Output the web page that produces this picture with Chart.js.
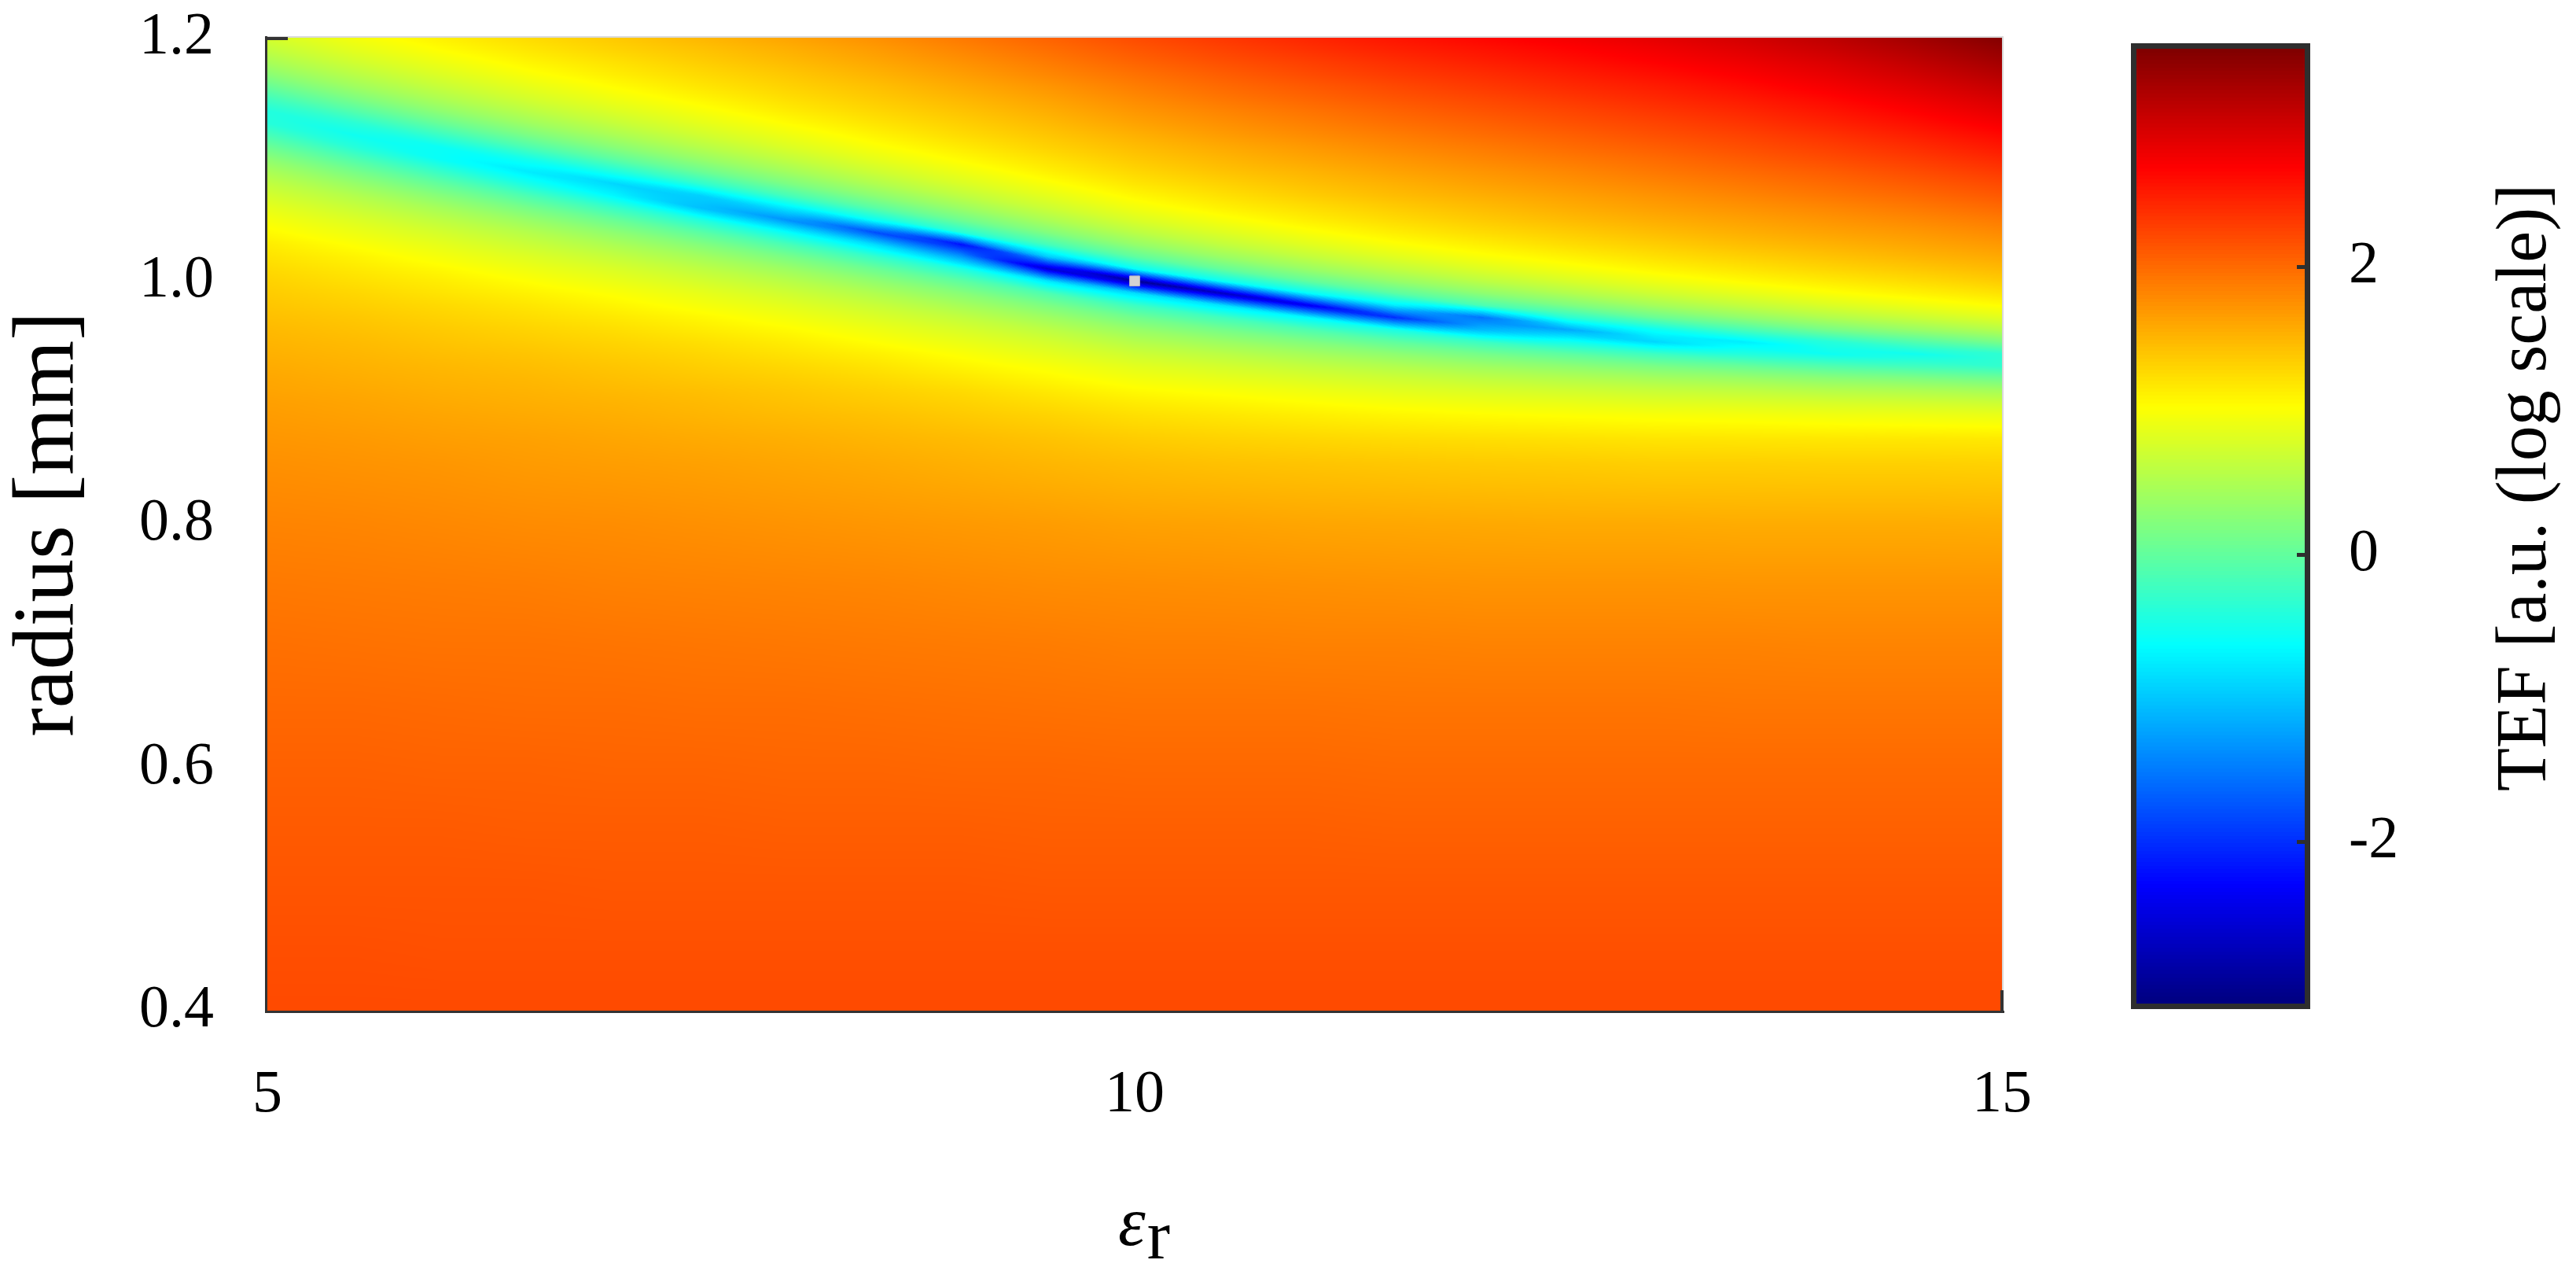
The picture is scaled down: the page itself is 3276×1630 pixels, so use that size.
<!DOCTYPE html>
<html><head><meta charset="utf-8">
<script src="https://cdn.jsdelivr.net/npm/chart.js@4.4.1/dist/chart.umd.min.js"></script>
<style>
html,body{margin:0;padding:0;background:#fff;}
#wrap{position:relative;width:3276px;height:1630px;overflow:hidden;background:#fff;}
#c1{position:absolute;left:0;top:0;}
#c2{position:absolute;left:2640px;top:0;}
</style></head><body>
<div id="wrap"><canvas id="c1" width="2640" height="1630"></canvas><canvas id="c2" width="636" height="1630"></canvas></div>
<script>
// ---- data (log10 TEF) ----
const epsR = [5,5.5,6,6.5,7,7.5,8,8.5,9,9.5,10,10.5,11,11.5,12,12.5,13,13.5,14,14.5,15];
const radius = [0.40,0.45,0.50,0.55,0.60,0.65,0.70,0.75,0.80,0.85,0.87,0.89,0.90,0.91,0.92,0.93,0.94,0.95,0.96,0.97,0.98,0.99,1.00,1.01,1.02,1.03,1.04,1.05,1.06,1.07,1.08,1.09,1.10,1.11,1.12,1.13,1.14,1.15,1.16,1.17,1.18,1.19,1.20];
// radius of the TEF minimum (blue/cyan valley) in each eps column
const valleyRadius = [1.136,1.120,1.105,1.091,1.078,1.065,1.052,1.039,1.026,1.013,1.000,0.990,0.981,0.973,0.966,0.960,0.954,0.949,0.944,0.940,0.936];
// one list per eps column, values from radius 0.40 (first) to 1.20 (last)
const tefLog = [
[2.21,2.18,2.14,2.10,2.06,2.01,1.96,1.90,1.83,1.75,1.71,1.67,1.65,1.62,1.60,1.57,1.54,1.51,1.48,1.44,1.40,1.36,1.32,1.27,1.21,1.15,1.06,0.97,0.87,0.75,0.62,0.47,0.29,0.07,-0.17,-0.40,-0.42,-0.21,0.04,0.27,0.46,0.62,0.75],
[2.21,2.18,2.14,2.10,2.06,2.01,1.95,1.89,1.82,1.73,1.69,1.64,1.62,1.59,1.56,1.53,1.50,1.47,1.43,1.39,1.34,1.29,1.23,1.17,1.10,1.01,0.91,0.80,0.67,0.53,0.35,0.14,-0.11,-0.39,-0.54,-0.37,-0.08,0.18,0.40,0.57,0.72,0.85,0.96],
[2.21,2.17,2.14,2.10,2.05,2.00,1.94,1.88,1.80,1.71,1.66,1.61,1.58,1.55,1.52,1.49,1.45,1.41,1.37,1.32,1.27,1.20,1.14,1.06,0.96,0.86,0.74,0.60,0.44,0.24,0.00,-0.29,-0.59,-0.58,-0.26,0.05,0.30,0.50,0.66,0.80,0.92,1.03,1.12],
[2.21,2.17,2.14,2.09,2.05,1.99,1.94,1.87,1.78,1.68,1.64,1.58,1.55,1.52,1.49,1.45,1.41,1.36,1.31,1.25,1.19,1.11,1.02,0.92,0.81,0.68,0.54,0.36,0.14,-0.14,-0.49,-0.76,-0.52,-0.14,0.16,0.40,0.58,0.74,0.87,0.99,1.09,1.18,1.26],
[2.21,2.17,2.13,2.09,2.04,1.99,1.93,1.85,1.77,1.66,1.61,1.55,1.52,1.48,1.44,1.40,1.35,1.30,1.24,1.17,1.09,1.00,0.89,0.78,0.64,0.48,0.29,0.05,-0.27,-0.68,-0.90,-0.44,-0.04,0.25,0.47,0.65,0.80,0.93,1.04,1.14,1.22,1.31,1.38],
[2.21,2.17,2.13,2.09,2.04,1.98,1.92,1.84,1.75,1.64,1.58,1.51,1.48,1.44,1.39,1.34,1.29,1.23,1.15,1.07,0.97,0.87,0.74,0.60,0.43,0.22,-0.05,-0.42,-1.05,-0.95,-0.33,0.06,0.34,0.55,0.72,0.86,0.98,1.09,1.19,1.27,1.35,1.42,1.50],
[2.21,2.17,2.13,2.08,2.03,1.98,1.91,1.83,1.73,1.61,1.55,1.47,1.43,1.39,1.34,1.28,1.21,1.14,1.05,0.95,0.84,0.71,0.56,0.38,0.15,-0.16,-0.61,-1.35,-0.76,-0.19,0.17,0.42,0.62,0.79,0.92,1.04,1.15,1.24,1.32,1.39,1.47,1.54,1.62],
[2.21,2.17,2.13,2.08,2.03,1.97,1.90,1.82,1.71,1.58,1.51,1.43,1.38,1.33,1.27,1.20,1.12,1.02,0.92,0.80,0.67,0.51,0.31,0.06,-0.29,-0.85,-1.80,-0.58,-0.06,0.27,0.51,0.70,0.86,0.99,1.10,1.20,1.29,1.37,1.44,1.52,1.60,1.67,1.75],
[2.21,2.17,2.13,2.08,2.02,1.96,1.89,1.80,1.69,1.54,1.47,1.37,1.32,1.26,1.18,1.09,1.00,0.89,0.77,0.63,0.45,0.25,-0.03,-0.44,-1.30,-2.20,-0.38,0.08,0.37,0.60,0.78,0.92,1.05,1.16,1.26,1.34,1.42,1.50,1.58,1.66,1.74,1.82,1.90],
[2.21,2.17,2.12,2.07,2.02,1.95,1.88,1.78,1.67,1.50,1.42,1.31,1.24,1.16,1.07,0.98,0.86,0.74,0.59,0.40,0.17,-0.14,-0.80,-2.60,-0.95,-0.19,0.21,0.48,0.69,0.85,0.99,1.12,1.22,1.32,1.40,1.48,1.56,1.64,1.72,1.81,1.89,1.97,2.05],
[2.21,2.17,2.12,2.07,2.01,1.94,1.86,1.77,1.64,1.46,1.36,1.23,1.15,1.05,0.95,0.84,0.70,0.54,0.35,0.10,-0.25,-0.85,-3.00,-0.62,-0.02,0.33,0.58,0.78,0.94,1.07,1.19,1.29,1.38,1.46,1.54,1.63,1.71,1.79,1.87,1.95,2.04,2.12,2.20],
[2.21,2.17,2.12,2.07,2.01,1.94,1.86,1.76,1.63,1.43,1.32,1.18,1.09,0.99,0.87,0.74,0.58,0.38,0.13,-0.21,-0.81,-2.70,-0.58,0.02,0.37,0.62,0.81,0.97,1.11,1.22,1.32,1.42,1.50,1.58,1.67,1.75,1.83,1.92,2.00,2.08,2.17,2.25,2.33],
[2.21,2.17,2.12,2.07,2.01,1.94,1.85,1.75,1.61,1.41,1.29,1.13,1.03,0.92,0.78,0.63,0.44,0.20,-0.13,-0.67,-2.40,-0.62,0.01,0.37,0.63,0.83,0.99,1.13,1.24,1.35,1.44,1.52,1.61,1.69,1.78,1.86,1.94,2.03,2.11,2.20,2.28,2.37,2.45],
[2.21,2.17,2.12,2.06,2.00,1.93,1.85,1.74,1.60,1.39,1.26,1.08,0.97,0.84,0.70,0.52,0.29,-0.02,-0.48,-2.00,-0.74,-0.04,0.35,0.62,0.83,1.00,1.14,1.26,1.36,1.46,1.54,1.63,1.71,1.80,1.88,1.97,2.05,2.14,2.22,2.31,2.39,2.48,2.56],
[2.21,2.17,2.12,2.06,2.00,1.93,1.84,1.73,1.59,1.37,1.24,1.04,0.92,0.78,0.61,0.40,0.13,-0.26,-1.10,-1.55,-0.15,0.29,0.59,0.81,0.99,1.13,1.26,1.37,1.46,1.55,1.64,1.72,1.81,1.89,1.98,2.06,2.15,2.23,2.32,2.40,2.49,2.57,2.66],
[2.21,2.17,2.12,2.06,2.00,1.93,1.84,1.73,1.58,1.36,1.22,1.01,0.88,0.72,0.53,0.29,-0.03,-0.53,-1.20,-0.35,0.18,0.52,0.77,0.96,1.11,1.25,1.36,1.47,1.56,1.64,1.73,1.81,1.90,1.99,2.07,2.16,2.24,2.33,2.42,2.50,2.59,2.67,2.76],
[2.21,2.17,2.12,2.06,2.00,1.93,1.84,1.73,1.58,1.34,1.20,0.98,0.83,0.66,0.44,0.16,-0.24,-0.90,-0.57,0.05,0.44,0.71,0.92,1.09,1.23,1.35,1.46,1.56,1.65,1.73,1.82,1.91,1.99,2.08,2.17,2.25,2.34,2.43,2.51,2.60,2.69,2.77,2.86],
[2.21,2.17,2.12,2.06,2.00,1.92,1.84,1.72,1.57,1.34,1.19,0.96,0.80,0.61,0.37,0.04,-0.42,-0.75,-0.16,0.31,0.63,0.86,1.05,1.20,1.33,1.45,1.55,1.64,1.73,1.82,1.91,2.00,2.09,2.18,2.26,2.35,2.44,2.53,2.62,2.71,2.80,2.89,2.98],
[2.21,2.17,2.12,2.06,2.00,1.92,1.83,1.72,1.57,1.33,1.18,0.93,0.76,0.54,0.27,-0.11,-0.56,-0.40,0.15,0.52,0.79,1.00,1.16,1.30,1.42,1.53,1.63,1.72,1.81,1.91,2.00,2.09,2.19,2.28,2.37,2.47,2.56,2.65,2.75,2.84,2.93,3.03,3.12],
[2.21,2.17,2.12,2.06,2.00,1.92,1.83,1.72,1.57,1.33,1.18,0.91,0.73,0.50,0.19,-0.22,-0.54,-0.10,0.36,0.68,0.92,1.11,1.26,1.39,1.51,1.61,1.70,1.80,1.90,2.00,2.10,2.20,2.30,2.40,2.50,2.60,2.70,2.80,2.90,3.00,3.10,3.20,3.30],
[2.21,2.17,2.12,2.06,2.00,1.92,1.83,1.72,1.56,1.32,1.17,0.88,0.68,0.43,0.09,-0.32,-0.35,0.16,0.55,0.83,1.04,1.21,1.36,1.48,1.59,1.69,1.79,1.89,2.00,2.11,2.21,2.32,2.43,2.54,2.64,2.75,2.86,2.96,3.07,3.18,3.29,3.39,3.50]
];
const xTicks = [5, 10, 15];
const yTicks = [0.4, 0.6, 0.8, 1.0, 1.2];
const cbTicks = [-2, 0, 2];
const cbMin = -3.13, cbMax = 3.52;
const designPoint = [{x: 10, y: 1.0}];
const xTitleMain = 'ε', xTitleSub = 'r';
const yTitle = 'radius [mm]';
const cbTitle = 'TEF [a.u. (log scale)]';

const FONT = "'Liberation Serif', 'Times New Roman', 'DejaVu Serif', serif";

function jetRGB(v) {
  let f = (v - cbMin) / (cbMax - cbMin);
  f = Math.min(1, Math.max(0, f));
  const c = t => Math.round(255 * Math.min(1, Math.max(0, 1.5 - Math.abs(4 * f - t))));
  return [c(3), c(2), c(1)];
}
function jet(v) { const c = jetRGB(v); return 'rgb(' + c[0] + ',' + c[1] + ',' + c[2] + ')'; }

// cells for the chart's dataset
const cells = [];
epsR.forEach((x, j) => radius.forEach((y, i) => cells.push({x: x, y: y, v: tefLog[j][i], i: i, j: j})));

function locate(arr, val) {
  let k = 0;
  while (k < arr.length - 2 && val > arr[k + 1]) k++;
  const t = (val - arr[k]) / (arr[k + 1] - arr[k]);
  return [k, Math.min(1, Math.max(0, t))];
}

const heatPlugin = {
  id: 'heat',
  beforeDatasetsDraw(chart) {
    const {ctx, chartArea: a, scales: {x: xs, y: ys}} = chart;
    const nR = radius.length;
    const grid = epsR.map(() => new Array(nR));
    chart.data.datasets[0].data.forEach(c => { grid[c.j][c.i] = c.v; });
    const y0 = radius[0], y1 = radius[nR - 1], STEP = 0.0005, NF = Math.round((y1 - y0) / STEP) + 1;
    const fine = grid.map(col => {
      const f = new Float64Array(NF);
      for (let q = 0; q < NF; q++) { const r = locate(radius, y0 + q * STEP); f[q] = (1 - r[1]) * col[r[0]] + r[1] * col[r[0] + 1]; }
      return f;
    });
    const sample = (j, yy) => { let q = Math.round((yy - y0) / STEP); q = q < 0 ? 0 : (q >= NF ? NF - 1 : q); return fine[j][q]; };
    const L = Math.round(a.left), T = Math.round(a.top);
    const W = Math.round(a.right) - L, H = Math.round(a.bottom) - T;
    const img = ctx.createImageData(W, H);
    const d = img.data;
    const yv = new Float64Array(H);
    for (let py = 0; py < H; py++) yv[py] = ys.getValueForPixel(T + py + 0.5);
    for (let px = 0; px < W; px++) {
      const r = locate(epsR, xs.getValueForPixel(L + px + 0.5));
      const j = r[0], tx = r[1];
      const yTrue = (1 - tx) * valleyRadius[j] + tx * valleyRadius[j + 1];
      const o0 = valleyRadius[j] - yTrue, o1 = valleyRadius[j + 1] - yTrue;
      for (let py = 0; py < H; py++) {
        const dy = Math.abs(yv[py] - yTrue);
        const w = dy < 0.03 ? 1 : (dy > 0.09 ? 0 : 0.5 * (1 + Math.cos(Math.PI * (dy - 0.03) / 0.06)));
        const v = (1 - tx) * sample(j, yv[py] + w * o0) + tx * sample(j + 1, yv[py] + w * o1);
        const c = jetRGB(v);
        const o = (py * W + px) * 4;
        d[o] = c[0]; d[o + 1] = c[1]; d[o + 2] = c[2]; d[o + 3] = 255;
      }
    }
    ctx.putImageData(img, L, T);
  },
  afterDraw(chart) {
    const {ctx, chartArea: a, scales: {x: xs, y: ys}} = chart;
    ctx.save();
    ctx.fillStyle = '#d9d9d9';
    ctx.fillRect(a.left, a.top - 2, a.right - a.left, 2);
    ctx.fillRect(a.right, a.top - 2, 2, a.bottom - a.top + 2);
    ctx.fillStyle = '#333333';
    ctx.fillRect(a.left - 3, a.top - 2, 3, a.bottom - a.top + 5);
    ctx.fillRect(a.left - 3, a.bottom, a.right - a.left + 6, 3);
    const ty = Math.round(ys.getPixelForValue(yTicks[yTicks.length - 1]));
    ctx.fillRect(a.left, ty - 1, 26, 4);
    const tx = Math.round(xs.getPixelForValue(xTicks[xTicks.length - 1]));
    ctx.fillRect(tx - 2, a.bottom - 26, 4, 26);
    // x title (epsilon with subscript r)
    ctx.fillStyle = '#000';
    ctx.textBaseline = 'alphabetic';
    ctx.textAlign = 'left';
    const cx = xs.getPixelForValue(10);
    ctx.font = 'italic 88px ' + FONT;
    const w1 = ctx.measureText(xTitleMain).width;
    ctx.font = '88px ' + FONT;
    const w2 = ctx.measureText(xTitleSub).width;
    const sx = cx + 11 - (w1 + w2) / 2;
    ctx.font = 'italic 88px ' + FONT;
    ctx.fillText(xTitleMain, sx, 1583);
    ctx.font = '88px ' + FONT;
    ctx.fillText(xTitleSub, sx + w1 + 2, 1600);
    // y title
    ctx.save();
    ctx.translate(63, (a.top + a.bottom) / 2);
    ctx.rotate(-Math.PI / 2);
    ctx.textAlign = 'center'; ctx.textBaseline = 'middle';
    ctx.font = '110px ' + FONT;
    ctx.fillText(yTitle, 0, 0);
    ctx.restore();
    ctx.restore();
  }
};

new Chart(document.getElementById('c1'), {
  type: 'scatter',
  data: {datasets: [
    {data: cells, pointRadius: 0, pointHoverRadius: 0, showLine: false},
    {data: designPoint, pointStyle: 'rect', pointRadius: 9, backgroundColor: '#d2d2d2', borderColor: '#bdbdbd', borderWidth: 1}
  ]},
  options: {
    responsive: false, animation: false, devicePixelRatio: 1, events: [],
    layout: {padding: {left: 0, top: 48, right: 94, bottom: 0}},
    plugins: {legend: {display: false}, tooltip: {enabled: false}},
    scales: {
      x: {type: 'linear', min: 5, max: 15,
        afterBuildTicks: s => { s.ticks = xTicks.map(v => ({value: v})); },
        afterFit: s => { s.height = 345; },
        grid: {display: true, drawOnChartArea: false, drawTicks: true, tickLength: 62, color: 'rgba(0,0,0,0)'},
        border: {display: false},
        ticks: {color: '#000', font: {family: FONT, size: 76}, padding: 0, maxRotation: 0, callback: v => String(v)}},
      y: {type: 'linear', min: 0.4, max: 1.2,
        afterBuildTicks: s => { s.ticks = yTicks.map(v => ({value: v})); },
        afterFit: s => { s.width = 340; },
        grid: {display: true, drawOnChartArea: false, drawTicks: true, tickLength: 68, color: 'rgba(0,0,0,0)'},
        border: {display: false},
        ticks: {color: '#000', font: {family: FONT, size: 76}, padding: 0, callback: v => Number(v).toFixed(1)}}
    }
  },
  plugins: [heatPlugin]
});

// ---- colour bar ----
const cbPlugin = {
  id: 'cb',
  beforeDatasetsDraw(chart) {
    const {ctx, chartArea: a, scales: {y: ys}} = chart;
    ctx.save();
    const N = 256;
    for (let k = 0; k < N; k++) {
      const v0 = cbMin + (cbMax - cbMin) * k / N, v1 = cbMin + (cbMax - cbMin) * (k + 1) / N;
      const p0 = Math.round(ys.getPixelForValue(v0)), p1 = Math.round(ys.getPixelForValue(v1));
      ctx.fillStyle = jet((v0 + v1) / 2);
      ctx.fillRect(a.left, p1, a.right - a.left, p0 - p1);
    }
    ctx.strokeStyle = '#2e2e2e'; ctx.lineWidth = 7;
    ctx.strokeRect(a.left - 3.5, a.top - 3.5, a.right - a.left + 7, a.bottom - a.top + 7);
    ctx.fillStyle = '#2e2e2e';
    cbTicks.forEach(t => { const p = Math.round(ys.getPixelForValue(t)); ctx.fillRect(a.right - 10, p - 2, 10, 5); });
    ctx.translate(573, 620);
    ctx.rotate(-Math.PI / 2);
    ctx.fillStyle = '#000'; ctx.textAlign = 'center'; ctx.textBaseline = 'middle';
    ctx.font = '90px ' + FONT;
    ctx.fillText(cbTitle, 0, 0);
    ctx.restore();
  }
};

new Chart(document.getElementById('c2'), {
  type: 'scatter',
  data: {datasets: [{data: [], pointRadius: 0}]},
  options: {
    responsive: false, animation: false, devicePixelRatio: 1, events: [],
    layout: {padding: {left: 77, top: 62, right: 0, bottom: 354}},
    plugins: {legend: {display: false}, tooltip: {enabled: false}},
    scales: {
      x: {display: false, min: 0, max: 1},
      y: {position: 'right', type: 'linear', min: cbMin, max: cbMax,
        afterBuildTicks: s => { s.ticks = cbTicks.map(v => ({value: v})); },
        afterFit: s => { s.width = 345; },
        grid: {display: true, drawOnChartArea: false, drawTicks: true, tickLength: 56, color: 'rgba(0,0,0,0)'},
        border: {display: false},
        ticks: {color: '#000', font: {family: FONT, size: 76}, padding: 0, callback: v => String(v)}}
    }
  },
  plugins: [cbPlugin]
});
</script></body></html>
